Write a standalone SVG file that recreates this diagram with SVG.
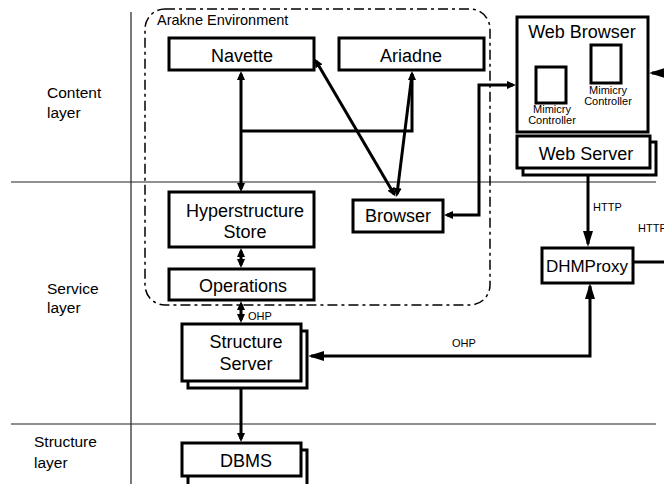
<svg xmlns="http://www.w3.org/2000/svg" width="664" height="484" viewBox="0 0 664 484">
  <style>
    text { font-family: "Liberation Sans", Arial, sans-serif; fill: #000; }
    .lbl { font-size: 18px; text-anchor: middle; }
    .layer { font-size: 15.5px; }
    .small { font-size: 11px; }
    .tiny { font-size: 11px; text-anchor: middle; }
    .box { fill: #fff; stroke: #000; stroke-width: 3; }
    .rule { fill: none; stroke: #222; stroke-width: 1.2; }
    .conn { fill: none; stroke: #000; stroke-width: 3; }
    .env { fill: none; stroke: #000; stroke-width: 1.5; stroke-dasharray: 10 4 3 4; }
  </style>
  <defs>
    <marker id="ah" markerUnits="userSpaceOnUse" markerWidth="9" markerHeight="9" refX="6" refY="4" orient="auto-start-reverse">
      <path d="M0,0 L9,4 L0,8 z" fill="#000"/>
    </marker>
    <marker id="big" markerUnits="userSpaceOnUse" markerWidth="16" markerHeight="10" refX="13" refY="5" orient="auto-start-reverse">
      <path d="M0,0 L16,5 L0,10 z" fill="#000"/>
    </marker>
  </defs>

  <!-- layer separators -->
  <g id="layers">
    <path class="rule" d="M131,12 V484"/>
    <path class="rule" d="M11,182 H656"/>
    <path class="rule" d="M11,424 H656"/>
    <text class="layer" x="47" y="98">Content</text>
    <text class="layer" x="47" y="118">layer</text>
    <text class="layer" x="47" y="294">Service</text>
    <text class="layer" x="47" y="313">layer</text>
    <text class="layer" x="34" y="447">Structure</text>
    <text class="layer" x="34" y="468">layer</text>
  </g>

  <!-- Arakne environment boundary -->
  <g id="arakne">
    <rect class="env" x="145" y="9" width="345" height="296" rx="20" ry="20"/>
    <text x="157" y="25" style="font-size:14.5px">Arakne Environment</text>
  </g>

  <!-- connectors -->
  <g id="connectors">
    <path class="conn" d="M241,74 V189" marker-start="url(#ah)" marker-end="url(#ah)"/>
    <path class="conn" d="M241,131 H412 V74" marker-end="url(#ah)"/>
    <path class="conn" d="M412,74 L397,194" marker-end="url(#ah)"/>
    <path class="conn" d="M316,61 L394,194" marker-start="url(#ah)" marker-end="url(#ah)"/>
    <path class="conn" d="M241,251 V265" marker-start="url(#ah)" marker-end="url(#ah)"/>
    <path class="conn" d="M241,304 V320" marker-start="url(#ah)" marker-end="url(#ah)"/>
    <text class="small" x="248" y="320">OHP</text>
    <path class="conn" d="M241,383 V439" marker-end="url(#ah)"/>
    <path class="conn" d="M447,215 H479 V85 H513" marker-start="url(#ah)" marker-end="url(#ah)"/>
    <path class="conn" d="M588,176 V244" marker-end="url(#big)"/>
    <text class="small" x="593" y="211">HTTP</text>
    <path class="conn" d="M311,356 H590 V286" marker-start="url(#big)" marker-end="url(#big)"/>
    <text class="small" x="452" y="347">OHP</text>
    <path class="conn" d="M634,262 H664"/>
    <text class="small" x="638" y="232">HTTP</text>
    <path class="conn" d="M672,73 H652" marker-end="url(#big)"/>
  </g>

  <g id="navette">
    <rect class="box" x="169" y="38" width="145" height="32"/>
    <text class="lbl" x="242" y="62">Navette</text>
  </g>
  <g id="ariadne">
    <rect class="box" x="339" y="38" width="145" height="32"/>
    <text class="lbl" x="411" y="62">Ariadne</text>
  </g>
  <g id="hyperstructure-store">
    <rect class="box" x="169" y="192" width="145" height="55"/>
    <text class="lbl" x="245" y="217">Hyperstructure</text>
    <text class="lbl" x="245" y="238">Store</text>
  </g>
  <g id="operations">
    <rect class="box" x="169" y="269" width="145" height="31"/>
    <text class="lbl" x="243" y="292">Operations</text>
  </g>
  <g id="browser">
    <rect class="box" x="353" y="200" width="90" height="32"/>
    <text class="lbl" x="398" y="222">Browser</text>
  </g>
  <g id="structure-server">
    <rect class="box" x="188" y="331" width="119" height="57"/>
    <rect class="box" x="182" y="324" width="119" height="57"/>
    <text class="lbl" x="246" y="348">Structure</text>
    <text class="lbl" x="246" y="370">Server</text>
  </g>
  <g id="dbms">
    <rect class="box" x="188" y="450" width="119" height="40"/>
    <rect class="box" x="182" y="443" width="119" height="33"/>
    <text class="lbl" x="246" y="467">DBMS</text>
  </g>
  <g id="web-browser">
    <rect class="box" x="517" y="17" width="131" height="115"/>
    <text class="lbl" x="582" y="38">Web Browser</text>
    <rect class="box" x="536" y="67" width="30" height="36"/>
    <text class="tiny" x="552" y="113">Mimicry</text>
    <text class="tiny" x="552" y="124">Controller</text>
    <rect class="box" x="591" y="45" width="30" height="38"/>
    <text class="tiny" x="608" y="94">Mimicry</text>
    <text class="tiny" x="608" y="105">Controller</text>
  </g>
  <g id="web-server">
    <rect class="box" x="523" y="142" width="133" height="33"/>
    <rect class="box" x="517" y="136" width="133" height="32"/>
    <text class="lbl" x="586" y="160">Web Server</text>
  </g>
  <g id="dhmproxy">
    <rect class="box" x="542" y="248" width="91" height="35"/>
    <text class="lbl" x="587" y="272" style="font-size:17px">DHMProxy</text>
  </g>
</svg>
